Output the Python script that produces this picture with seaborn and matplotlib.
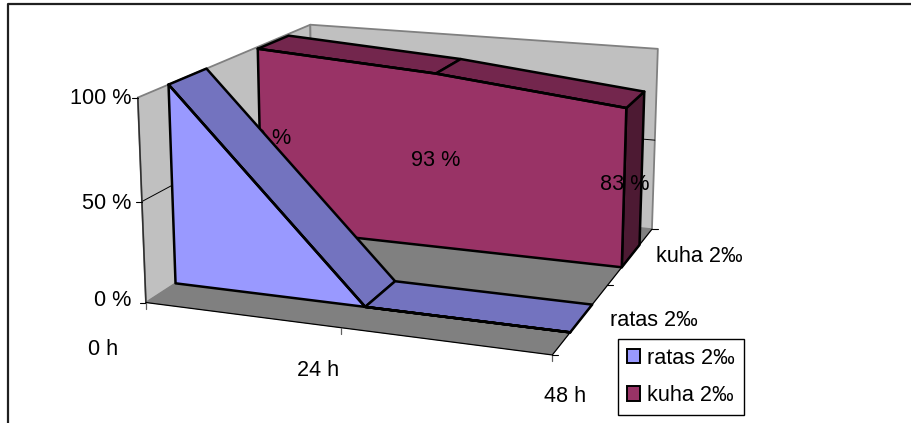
import numpy as np
import pandas as pd
import matplotlib
matplotlib.use("Agg")
import matplotlib.pyplot as plt
from matplotlib.patches import Patch
import seaborn as sns

# data
times = ["0 h", "24 h", "48 h"]
series = ["ratas 2‰", "kuha 2‰"]
ratas = [100, 0, 0]
kuha = [99, 93, 83]
kuha_labels = ["99 %", "93 %", "83 %"]
pct_ticks = [0, 50, 100]
pct_labels = ["0 %", "50 %", "100 %"]

sns.set_theme(style="white")
plt.rcParams["font.family"] = ["Liberation Sans", "DejaVu Sans"]
plt.rcParams["text.color"] = "black"
FONT = 15.6

front_col = dict(zip(series, sns.color_palette(["#9999ff", "#993366"])))
top_col = {"ratas 2‰": "#7373bf", "kuha 2‰": "#73264d"}
side_col = "#4d1a33"
WALL = "#c0c0c0"
FLOOR = "#808080"

# depth slots of the two series on the floor (0 = front, 1 = back)
depth = {"ratas 2‰": (0.15, 0.35), "kuha 2‰": (0.65, 0.85)}

# chart box corners: (time index, depth, percent) -> picture pixels
box_world = np.array([(0, 0, 0), (2, 0, 0), (2, 1, 0), (0, 1, 0),
                      (0, 0, 100), (0, 1, 100), (2, 1, 100)], dtype=float)
box_px = np.array([(146, 303), (552, 355), (652, 229), (313, 194),
                   (138, 97), (310, 25), (658, 49)], dtype=float)


def fit_camera(world, px):
    rows = []
    for (x, y, z), (u, v) in zip(world, px):
        rows.append([x, y, z, 1, 0, 0, 0, 0, -u * x, -u * y, -u * z, -u])
        rows.append([0, 0, 0, 0, x, y, z, 1, -v * x, -v * y, -v * z, -v])
    return np.linalg.svd(np.array(rows))[2][-1].reshape(3, 4)


CAM = fit_camera(box_world, box_px)


def proj(x, d, z):
    p = CAM @ np.array([x, d, z, 1.0])
    return p[0] / p[2], p[1] / p[2]


def face(ax, pts, color, edge=None, lw=1.8, z=2):
    xy = [proj(*p) for p in pts]
    ax.fill(*zip(*xy), facecolor=color, edgecolor=edge if edge else color,
            lw=lw if edge else 0.3, joinstyle="round", zorder=z)


fig = plt.figure(figsize=(9.11, 4.23), dpi=100)
ax = fig.add_axes([0, 0, 1, 1])

# walls and floor
face(ax, [(0, 0, 0), (0, 1, 0), (0, 1, 100), (0, 0, 100)], WALL, "#808080", 1.3, 1)
face(ax, [(0, 1, 0), (2, 1, 0), (2, 1, 100), (0, 1, 100)], WALL, "#808080", 1.3, 1)
face(ax, [(0, 0, 0), (2, 0, 0), (2, 1, 0), (0, 1, 0)], FLOOR, z=1.5)

# gridlines at 50 %
grid = [proj(0, 0, 50), proj(0, 1, 50), proj(2, 1, 50)]
ax.plot(*zip(*grid), color="black", lw=0.7, zorder=1.6)

# kuha goes first, it sits at the back
d0, d1 = depth["kuha 2‰"]
name = "kuha 2‰"
face(ax, [(2, d0, 0), (2, d1, 0), (2, d1, kuha[2]), (2, d0, kuha[2])], side_col, "black", z=3)
for i in range(len(times) - 1):
    face(ax, [(i, d0, kuha[i]), (i + 1, d0, kuha[i + 1]),
              (i + 1, d1, kuha[i + 1]), (i, d1, kuha[i])], top_col[name], "black", z=3)
outline = [(0, d0, 0)] + [(i, d0, v) for i, v in enumerate(kuha)] + [(2, d0, 0)]
face(ax, outline, front_col[name], "black", z=3.1)

# first kuha label gets covered by the ratas band
ax.text(*proj(0.04, d0, 50), kuha_labels[0], ha="center", va="center", fontsize=FONT, zorder=3.5)

d0, d1 = depth["ratas 2‰"]
name = "ratas 2‰"
for i in range(len(times) - 1):
    face(ax, [(i, d0, ratas[i]), (i + 1, d0, ratas[i + 1]),
              (i + 1, d1, ratas[i + 1]), (i, d1, ratas[i])], top_col[name], "black", z=4)
outline = [(0, d0, 0)] + [(i, d0, v) for i, v in enumerate(ratas)]
face(ax, outline, front_col[name], "black", z=4.1)

# other value labels sit on top of everything
ax.text(*proj(1, 0.65, 47), kuha_labels[1], ha="center", va="center", fontsize=FONT, zorder=6)
ax.text(*proj(2, 0.66, 43), kuha_labels[2], ha="center", va="center", fontsize=FONT, zorder=6)

# front edges of the series, through the long table
rows = []
for name, vals in zip(series, [ratas, kuha]):
    for i, v in enumerate(vals):
        px, py = proj(i, depth[name][0], v)
        rows.append({"series": name, "time": times[i], "px": px, "py": py})
edges = pd.DataFrame(rows)
sns.lineplot(data=edges, x="px", y="py", hue="series", palette={s: "black" for s in series},
             sort=False, estimator=None, legend=False, lw=1.8, zorder=5, ax=ax)

# axis lines and ticks
front = [proj(0, 0, 0), proj(2, 0, 0), proj(2, 1, 0)]
ax.plot(*zip(*front), color="black", lw=0.9, zorder=5)
ax.plot(*zip(proj(0, 0, 0), proj(0, 0, 100)), color="#303030", lw=1.1, zorder=1.7)

pct_off = [-2, 2, 1]
for p, lab, off in zip(pct_ticks, pct_labels, pct_off):
    u, v = proj(0, 0, p)
    ax.plot([u - 6, u], [v, v], color="black", lw=0.8, zorder=5)
    ax.text(131, v + off, lab, ha="right", va="center", fontsize=FONT)

time_off = [(-43, 47), (-23, 43), (13, 42)]
for i, lab in enumerate(times):
    u, v = proj(i, 0, 0)
    ax.plot([u, u], [v, v + 6], color="#606060", lw=0.9, zorder=5)
    ax.text(u + time_off[i][0], v + time_off[i][1], lab, ha="center", va="center", fontsize=FONT)

for d in [0, 0.5, 1]:
    u, v = proj(2, d, 0)
    ax.plot([u, u + 6], [v, v], color="black", lw=0.8, zorder=5)
series_off = [(72, 2), (68, 1)]
for d, lab, off in zip([0.25, 0.75], series, series_off):
    u, v = proj(2, d, 0)
    ax.text(u + off[0], v + off[1], lab, ha="center", va="center", fontsize=FONT)

# chart frame, cut by the crop on the right and at the bottom
ax.plot([8, 8, 911], [423, 4, 4], color="#202020", lw=1.6, zorder=7, clip_on=False)

handles = [Patch(facecolor=front_col[s], edgecolor="black", lw=1.4, label=s) for s in series]
ax.legend(handles=handles, loc="upper left", bbox_to_anchor=(617.5, 339), bbox_transform=ax.transData,
          frameon=True, fancybox=False, framealpha=1, edgecolor="black",
          handlelength=0.62, handleheight=0.62, handletextpad=0.34, labelspacing=0.74,
          borderpad=0.42, borderaxespad=0, prop={"size": FONT})

ax.set_xlim(0, 911)
ax.set_ylim(423, 0)
ax.set_xlabel("")
ax.set_ylabel("")
ax.axis("off")

fig.savefig("out.png", dpi=100)
